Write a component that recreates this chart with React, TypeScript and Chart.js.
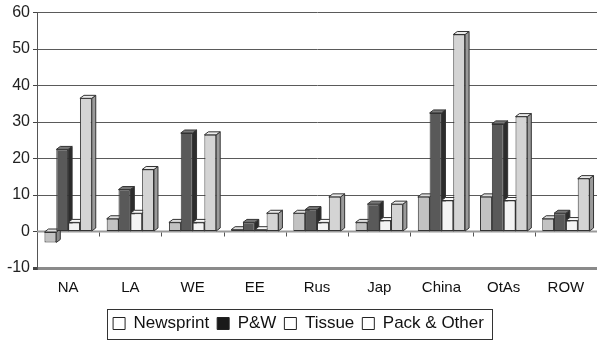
import React, { useEffect, useRef } from "react";
import { Chart, registerables } from "chart.js";

Chart.register(...registerables);

// Regional production growth by grade
const categories = ["NA", "LA", "WE", "EE", "Rus", "Jap", "China", "OtAs", "ROW"];
const seriesNames = ["Newsprint", "P&W", "Tissue", "Pack & Other"];
const newsprint = [-3, 3.5, 2.5, 0.5, 5, 2.5, 9.5, 9.5, 3.5];
const paperWriting = [22.5, 11.5, 27, 2.5, 6, 7.5, 32.5, 29.5, 5];
const tissue = [2.5, 5, 2.5, 0.5, 2.5, 3, 8.5, 8.5, 3];
const packOther = [36.5, 17, 26.5, 5, 9.5, 7.5, 54, 31.5, 14.5];
const yTicks = [-10, 0, 10, 20, 30, 40, 50, 60];

const frontColors = ["#c2c2c2", "#595959", "#f4f4f4", "#d4d4d4"];
const sideColors = ["#8a8a8a", "#2c2c2c", "#b8b8b8", "#9a9a9a"];
const topColors = ["#dedede", "#787878", "#fafafa", "#eaeaea"];
const legendFills = ["#ffffff", "#1a1a1a", "#ffffff", "#ffffff"];

const FONT = "'Liberation Sans', Arial, sans-serif";
const DX = 4;
const DY = 3;

const depthPlugin = {
  id: "barDepth",
  beforeDatasetsDraw(chart: any) {
    const ctx = chart.ctx;
    const yScale = chart.scales.y;
    const area = chart.chartArea;
    const y0 = yScale.getPixelForValue(0);
    ctx.save();
    // floor edge at zero
    ctx.strokeStyle = "#9a9a9a";
    ctx.lineWidth = 2;
    ctx.beginPath();
    ctx.moveTo(area.left, y0);
    ctx.lineTo(area.right, y0);
    ctx.stroke();
    // category separators on the floor
    ctx.strokeStyle = "#555";
    ctx.lineWidth = 1;
    const n = categories.length;
    const step = (area.right - area.left) / n;
    for (let k = 1; k < n; k++) {
      const x = Math.round(area.left + step * k) + 0.5;
      ctx.beginPath();
      ctx.moveTo(x, y0 + 1);
      ctx.lineTo(x, y0 + 5);
      ctx.stroke();
    }
    // side and top faces of each bar
    chart.data.datasets.forEach((_ds: any, i: number) => {
      const meta = chart.getDatasetMeta(i);
      meta.data.forEach((bar: any) => {
        const { x, y, base, width } = bar.getProps(["x", "y", "base", "width"], true);
        const left = x - width / 2;
        const right = x + width / 2;
        const top = Math.min(y, base);
        const bottom = Math.max(y, base);
        ctx.lineWidth = 1;
        ctx.strokeStyle = "#333";
        ctx.fillStyle = sideColors[i];
        ctx.beginPath();
        ctx.moveTo(right, bottom);
        ctx.lineTo(right + DX, bottom - DY);
        ctx.lineTo(right + DX, top - DY);
        ctx.lineTo(right, top);
        ctx.closePath();
        ctx.fill();
        ctx.stroke();
        ctx.fillStyle = topColors[i];
        ctx.beginPath();
        ctx.moveTo(left, top);
        ctx.lineTo(left + DX, top - DY);
        ctx.lineTo(right + DX, top - DY);
        ctx.lineTo(right, top);
        ctx.closePath();
        ctx.fill();
        ctx.stroke();
      });
    });
    ctx.restore();
  },
};

const legendFramePlugin = {
  id: "legendFrame",
  afterDraw(chart: any) {
    const lg = chart.legend;
    if (!lg || !lg.legendHitBoxes || !lg.legendHitBoxes.length) return;
    const boxes = lg.legendHitBoxes;
    const left = Math.min(...boxes.map((b: any) => b.left)) - 6;
    const right = Math.max(...boxes.map((b: any) => b.left + b.width)) + 8;
    const top = Math.min(...boxes.map((b: any) => b.top)) - 6;
    const bottom = Math.max(...boxes.map((b: any) => b.top + b.height)) + 7;
    const ctx = chart.ctx;
    ctx.save();
    ctx.strokeStyle = "#333";
    ctx.lineWidth = 1;
    ctx.strokeRect(Math.round(left) + 0.5, Math.round(top) + 0.5, Math.round(right - left), Math.round(bottom - top));
    ctx.restore();
  },
};

export default function App() {
  const canvasRef = useRef<HTMLCanvasElement | null>(null);

  useEffect(() => {
    if (!canvasRef.current) return;
    const values = [newsprint, paperWriting, tissue, packOther];
    const chart = new Chart(canvasRef.current, {
      type: "bar",
      data: {
        labels: categories,
        datasets: seriesNames.map((name, i) => ({
          label: name,
          data: values[i],
          backgroundColor: frontColors[i],
          borderColor: "#333",
          borderWidth: 1,
          borderSkipped: false,
          categoryPercentage: 0.76,
          barPercentage: 1,
        })),
      },
      options: {
        animation: false,
        responsive: false,
        devicePixelRatio: 1,
        layout: { padding: { top: 0, bottom: 1, left: 0, right: 0 } },
        plugins: {
          tooltip: { enabled: false },
          legend: {
            position: "bottom",
            labels: {
              boxWidth: 12,
              boxHeight: 12,
              padding: 8,
              color: "#111",
              font: { family: FONT, size: 17 },
              generateLabels: (c: any) =>
                c.data.datasets.map((ds: any, i: number) => ({
                  text: ds.label,
                  fillStyle: legendFills[i],
                  strokeStyle: "#222",
                  lineWidth: 1,
                  hidden: false,
                  datasetIndex: i,
                  fontColor: "#111",
                })),
            },
          },
        },
        scales: {
          x: {
            grid: { display: false, drawTicks: false },
            border: { display: false },
            ticks: { color: "#111", font: { family: FONT, size: 15 }, padding: 11 },
            afterFit: (scale: any) => {
              scale.height = 39;
            },
          },
          y: {
            min: -10,
            max: 60,
            afterBuildTicks: (scale: any) => {
              scale.ticks = yTicks.map((v) => ({ value: v }));
            },
            ticks: { color: "#222", font: { family: FONT, size: 16 }, padding: 3 },
            grid: {
              color: (ctx: any) => (ctx.tick && ctx.tick.value === -10 ? "#8a8a8a" : "#5a5a5a"),
              lineWidth: (ctx: any) => (ctx.tick && ctx.tick.value === -10 ? 3 : 1),
              tickLength: 4,
              tickColor: "#444",
            },
            border: { display: true, color: "#555", width: 1 },
            afterFit: (scale: any) => {
              scale.width = 37;
            },
          },
        },
      },
      plugins: [depthPlugin, legendFramePlugin],
    } as any);
    return () => chart.destroy();
  }, []);

  return (
    <div style={{ position: "absolute", left: 0, top: 0, width: 597, height: 343, background: "#fff" }}>
      <canvas ref={canvasRef} width={597} height={343} />
    </div>
  );
}
